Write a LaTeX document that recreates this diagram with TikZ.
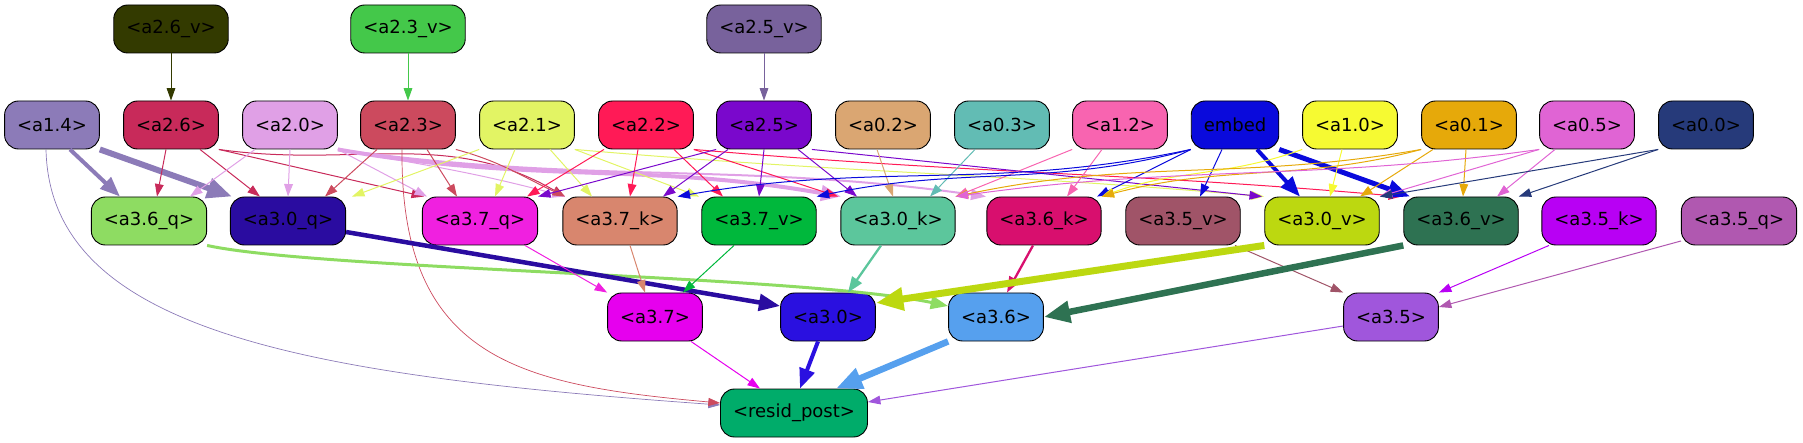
\documentclass[tikz,border=0pt]{standalone}
\usepackage{fontspec}
\setmainfont{DejaVu Sans}
\usepackage{xcolor}
\usepackage{tikz}
\usetikzlibrary{arrows.meta}

\definecolor{ca26v}{HTML}{333A00}
\definecolor{ca23v}{HTML}{44C84A}
\definecolor{ca25v}{HTML}{78629C}
\definecolor{ca14}{HTML}{8C7BB8}
\definecolor{ca26}{HTML}{C82A5A}
\definecolor{ca20}{HTML}{E0A0E6}
\definecolor{ca23}{HTML}{CC4A5E}
\definecolor{ca21}{HTML}{E2F464}
\definecolor{ca22}{HTML}{FF1A56}
\definecolor{ca25}{HTML}{7A08CC}
\definecolor{ca02}{HTML}{DAA672}
\definecolor{ca03}{HTML}{62BCB4}
\definecolor{ca12}{HTML}{F864B0}
\definecolor{cemb}{HTML}{0A0ADC}
\definecolor{ca10}{HTML}{F6FA32}
\definecolor{ca01}{HTML}{E6A90A}
\definecolor{ca05}{HTML}{E064D4}
\definecolor{ca00}{HTML}{263A7A}
\definecolor{ca36q}{HTML}{8EDC62}
\definecolor{ca30q}{HTML}{2A0CA0}
\definecolor{ca37q}{HTML}{F020E0}
\definecolor{ca37k}{HTML}{D8866E}
\definecolor{ca37v}{HTML}{00B83C}
\definecolor{ca30k}{HTML}{5CC69C}
\definecolor{ca36k}{HTML}{D80F6E}
\definecolor{ca35v}{HTML}{A05468}
\definecolor{ca30v}{HTML}{BCD810}
\definecolor{ca36v}{HTML}{2E7252}
\definecolor{ca35k}{HTML}{B800F4}
\definecolor{ca35q}{HTML}{B058B0}
\definecolor{ca37}{HTML}{E600EE}
\definecolor{ca30}{HTML}{2A10E0}
\definecolor{ca36}{HTML}{56A0EE}
\definecolor{ca35}{HTML}{A056DC}
\definecolor{crp}{HTML}{00AC6A}

\begin{document}
\begin{tikzpicture}[x=1pt, y=-1pt,
    box/.style={draw=black, line width=0.9pt, rounded corners=14pt,
        minimum height=48pt, inner xsep=12.5pt, inner ysep=0pt,
        font=\fontsize{18}{21}\selectfont},
    wire/.style={-{Triangle[length=10pt 2.5, width=6.5pt 2.2]}, line width=1pt}]
    \useasboundingbox (0,0) rectangle (1803,443);

    \node[box, fill=ca26v] (a26v) at (171,29) {<a2.6\_v>};
    \node[box, fill=ca23v] (a23v) at (408,29) {<a2.3\_v>};
    \node[box, fill=ca25v] (a25v) at (764,29) {<a2.5\_v>};

    \node[box, fill=ca14] (a14) at (52,125) {<a1.4>};
    \node[box, fill=ca26] (a26) at (171,125) {<a2.6>};
    \node[box, fill=ca20] (a20) at (290,125) {<a2.0>};
    \node[box, fill=ca23] (a23) at (408,125) {<a2.3>};
    \node[box, fill=ca21] (a21) at (527,125) {<a2.1>};
    \node[box, fill=ca22] (a22) at (646,125) {<a2.2>};
    \node[box, fill=ca25] (a25) at (764,125) {<a2.5>};
    \node[box, fill=ca02] (a02) at (883,125) {<a0.2>};
    \node[box, fill=ca03] (a03) at (1002,125) {<a0.3>};
    \node[box, fill=ca12] (a12) at (1120,125) {<a1.2>};
    \node[box, fill=cemb] (emb) at (1235,125) {embed};
    \node[box, fill=ca10] (a10) at (1350,125) {<a1.0>};
    \node[box, fill=ca01] (a01) at (1469,125) {<a0.1>};
    \node[box, fill=ca05] (a05) at (1587,125) {<a0.5>};
    \node[box, fill=ca00] (a00) at (1706,125) {<a0.0>};

    \node[box, fill=ca36q] (a36q) at (149,221) {<a3.6\_q>};
    \node[box, fill=ca30q] (a30q) at (288,221) {<a3.0\_q>};
    \node[box, fill=ca37q] (a37q) at (480,221) {<a3.7\_q>};
    \node[box, fill=ca37k] (a37k) at (620,221) {<a3.7\_k>};
    \node[box, fill=ca37v] (a37v) at (759,221) {<a3.7\_v>};
    \node[box, fill=ca30k] (a30k) at (898,221) {<a3.0\_k>};
    \node[box, fill=ca36k] (a36k) at (1044,221) {<a3.6\_k>};
    \node[box, fill=ca35v] (a35v) at (1183,221) {<a3.5\_v>};
    \node[box, fill=ca30v] (a30v) at (1322,221) {<a3.0\_v>};
    \node[box, fill=ca36v] (a36v) at (1461,221) {<a3.6\_v>};
    \node[box, fill=ca35k] (a35k) at (1599,221) {<a3.5\_k>};
    \node[box, fill=ca35q] (a35q) at (1739,221) {<a3.5\_q>};

    \node[box, fill=ca37] (a37) at (655,317) {<a3.7>};
    \node[box, fill=ca30] (a30) at (828,317) {<a3.0>};
    \node[box, fill=ca36] (a36) at (996,317) {<a3.6>};
    \node[box, fill=ca35] (a35) at (1391,317) {<a3.5>};

    \node[box, fill=crp] (rp) at (794,413) {<resid\_post>};

    % top row
    \draw[wire, ca26v] (a26v) -- (a26);
    \draw[wire, ca23v] (a23v) -- (a23);
    \draw[wire, ca25v] (a25v) -- (a25);

    % second row into third row
    \draw[wire, ca14, line width=4pt] ([xshift=18pt]a14.south) -- ([xshift=-29pt]a36q.north);
    \draw[wire, ca14, line width=6pt] (a14.south east) -- ([xshift=-56pt]a30q.north);
    \draw[wire, ca14, line width=0.7pt] ([xshift=-6pt]a14.south) .. controls (50,330) and (300,375) .. ([yshift=8pt]rp.west);

    \draw[wire, ca26] ([xshift=-5pt]a26.south) -- ([xshift=8pt]a36q.north);
    \draw[wire, ca26] ([xshift=29pt]a26.south) -- ([xshift=-28pt]a30q.north);
    \draw[wire, ca26] (a26.south east) -- ([xshift=-56pt]a37q.north);
    \draw[wire, ca26] (a26.south east) to[out=-8, in=150] ([xshift=-55pt]a37k.north);

    \draw[wire, ca20] ([xshift=-35pt]a20.south) -- ([xshift=41pt]a36q.north);
    \draw[wire, ca20] (a20.south) -- (a30q.north);
    \draw[wire, ca20] (a20.south east) -- ([xshift=-53pt]a37q.north);
    \draw[wire, ca20] (a20.south east) to[out=-10, in=165] ([xshift=-55pt]a37k.north);
    \draw[wire, ca20, line width=4pt] (a20.south east) to[out=-10, in=170] ([xshift=-57pt]a30k.north);
    \draw[wire, ca20, line width=2pt] (a20.south east) to[out=-8, in=172] ([xshift=-58pt]a36k.north);

    \draw[wire, ca23] ([xshift=-31pt]a23.south) -- ([xshift=37pt]a30q.north);
    \draw[wire, ca23] ([xshift=19pt]a23.south) -- ([xshift=-23pt]a37q.north);
    \draw[wire, ca23] (a23.south east) to[out=-15, in=155] ([xshift=-55pt]a37k.north);
    \draw[wire, ca23, line width=0.7pt] ([xshift=-6pt]a23.south) .. controls (400,360) and (520,385) .. ([yshift=10pt]rp.west);

    \draw[wire, ca21] (a21.south west) -- ([xshift=64pt]a30q.north);
    \draw[wire, ca21] ([xshift=-12pt]a21.south) -- ([xshift=15pt]a37q.north);
    \draw[wire, ca21] ([xshift=23pt]a21.south) -- ([xshift=-28pt]a37k.north);
    \draw[wire, ca21] (a21.south east) -- ([xshift=-60pt]a37v.north);
    \draw[wire, ca21] (a21.south east) to[out=-5, in=175] ([xshift=-58pt]a30v.north);

    \draw[wire, ca22] ([xshift=-42pt]a22.south) -- ([xshift=47pt]a37q.north);
    \draw[wire, ca22] ([xshift=-8pt]a22.south) -- ([xshift=10pt]a37k.north);
    \draw[wire, ca22] ([xshift=28pt]a22.south) -- ([xshift=-36pt]a37v.north);
    \draw[wire, ca22] (a22.south east) -- ([xshift=-60pt]a30k.north);
    \draw[wire, ca22] (a22.south east) to[out=-5, in=175] ([xshift=-60pt]a36v.north);

    \draw[wire, ca25] (a25.south west) -- (a37q.north east);
    \draw[wire, ca25] ([xshift=-36pt]a25.south) -- ([xshift=43pt]a37k.north);
    \draw[wire, ca25] (a25.south) -- (a37v.north);
    \draw[wire, ca25] ([xshift=34pt]a25.south) -- ([xshift=-41pt]a30k.north);
    \draw[wire, ca25] (a25.south east) -- ([xshift=-60pt]a30v.north);

    \draw[wire, ca02] ([xshift=-6pt]a02.south) -- ([xshift=-5pt]a30k.north);
    \draw[wire, ca03] ([xshift=-27pt]a03.south) -- ([xshift=32pt]a30k.north);
    \draw[wire, ca12] (a12.south west) -- (a30k.north east);
    \draw[wire, ca12] ([xshift=-18pt]a12.south) -- ([xshift=23pt]a36k.north);

    \draw[wire, cemb] (emb.south west) to[out=192, in=10] (a37k.north east);
    \draw[wire, cemb] (emb.south west) to[out=195, in=12] (a37v.north east);
    \draw[wire, cemb] (emb.south west) -- ([xshift=53pt]a36k.north);
    \draw[wire, cemb] ([xshift=-13pt]emb.south) -- ([xshift=17pt]a35v.north);
    \draw[wire, cemb, line width=4pt] ([xshift=22pt]emb.south) -- ([xshift=-22pt]a30v.north);
    \draw[wire, cemb, line width=5pt] (emb.south east) -- ([xshift=-51pt]a36v.north);

    \draw[wire, ca10] ([xshift=-8pt]a10.south) -- ([xshift=8pt]a30v.north);
    \draw[wire, ca10] (a10.south west) to[out=200, in=20] (a36k.north east);

    \draw[wire, ca01] (a01.south west) to[out=190, in=12] (a30k.north east);
    \draw[wire, ca01] (a01.south west) to[out=195, in=15] (a36k.north east);
    \draw[wire, ca01] ([xshift=-36pt]a01.south) -- ([xshift=38pt]a30v.north);
    \draw[wire, ca01] ([xshift=-3pt]a01.south) -- ([xshift=2pt]a36v.north);

    \draw[wire, ca05] (a05.south west) to[out=188, in=8] (a30k.north east);
    \draw[wire, ca05] (a05.south west) -- (a30v.north east);
    \draw[wire, ca05] ([xshift=-32pt]a05.south) -- ([xshift=36pt]a36v.north);

    \draw[wire, ca00] (a00.south west) -- (a30v.north east);
    \draw[wire, ca00] (a00.south west) -- (a36v.north east);

    % third row into fourth row
    \draw[wire, ca36q, line width=3pt] (a36q.south east) .. controls (320,270) and (800,275) .. ([yshift=11pt]a36.west);
    \draw[wire, ca30q, line width=4.5pt] ([yshift=-11pt]a30q.east) -- ([yshift=11pt]a30.west);
    \draw[wire, ca37q] ([xshift=45pt]a37q.south) -- (a37.north west);
    \draw[wire, ca37k] ([xshift=10pt]a37k.south) -- ([xshift=-10pt]a37.north);
    \draw[wire, ca37v] ([xshift=-25pt]a37v.south) -- ([xshift=28pt]a37.north);
    \draw[wire, ca30k, line width=2.3pt] ([xshift=-17pt]a30k.south) -- ([xshift=20pt]a30.north);
    \draw[wire, ca36k, line width=2.3pt] ([xshift=-11pt]a36k.south) -- ([xshift=11pt]a36.north);
    \draw[wire, ca35v] ([xshift=52pt]a35v.south) -- (a35.north west);
    \draw[wire, ca30v, line width=7pt] (a30v.south west) -- ([yshift=14pt]a30.east);
    \draw[wire, ca36v, line width=6.5pt] (a36v.south west) -- (a36.east);
    \draw[wire, ca35k] ([xshift=-50pt]a35k.south) -- (a35.north east);
    \draw[wire, ca35q] ([yshift=-20pt]a35q.west) -- ([yshift=10pt]a35.east);

    % into resid_post
    \draw[wire, ca37] ([xshift=36pt]a37.south) -- ([xshift=-34pt]rp.north);
    \draw[wire, ca30, line width=4pt] ([xshift=-10pt]a30.south) -- ([xshift=6pt]rp.north);
    \draw[wire, ca36, line width=6.5pt] (a36.south west) -- ([xshift=42pt]rp.north);
    \draw[wire, ca35] ([yshift=-9pt]a35.west) -- ([yshift=11pt]rp.east);
\end{tikzpicture}
\end{document}
